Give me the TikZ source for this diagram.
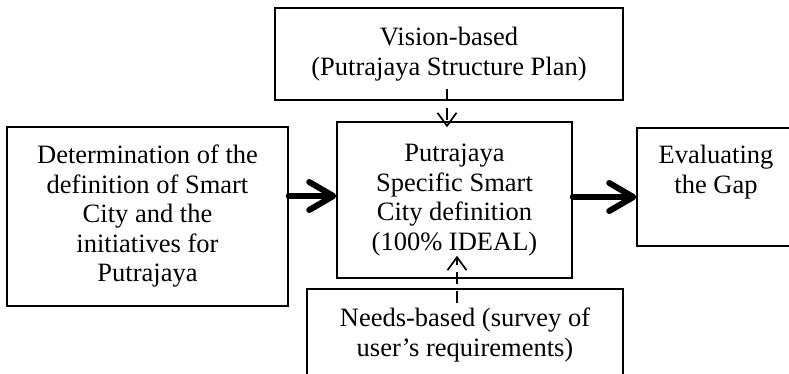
\documentclass[tikz,border=0pt]{standalone}
\usepackage{fontspec}
\setmainfont{Liberation Serif}
\usetikzlibrary{arrows.meta}
\begin{document}
\begin{tikzpicture}[x=1pt,y=-1pt,
  box/.style={draw, line width=1.5pt, inner sep=0pt, align=center,
    font=\fontsize{26.5}{29.5}\selectfont},
  txt/.style={inner sep=0pt, align=center, font=\fontsize{26.5}{29.5}\selectfont},
  bigarrow/.style={line width=6pt, line cap=round,
    -{Straight Barb[length=24pt,width=28pt,line cap=round,round]}},
  dasharrow/.style={line width=1.7pt, dash pattern=on 12pt off 7pt,
    -{Straight Barb[length=13pt,width=19pt]}}]
\useasboundingbox (0,0) rectangle (789,373);
\clip (0,0) rectangle (789,373);
\node[box, minimum width=348pt, minimum height=92pt] (vis) at (449,54)
  {Vision-based\\(Putrajaya Structure Plan)};
\node[box, minimum width=281pt, minimum height=179pt] (left) at (147.5,216.5)
  {Determination of the\\definition of Smart\\City and the\\initiatives for\\Putrajaya};
\node[box, minimum width=235pt, minimum height=156pt] (ctr) at (454.5,200)
  {Putrajaya\\Specific Smart\\City definition\\(100\% IDEAL)};
\node[box, minimum width=158pt, minimum height=118pt] (eval) at (716,187) {};
\node[txt, anchor=north] (evaltxt) at (716,145) {Evaluating\\the Gap};
\node[box, minimum width=316pt, minimum height=92pt] (needs) at (465,335)
  {Needs-based (survey of\\user’s requirements)};
\draw[bigarrow] ([yshift=4pt]left.east |- ctr.west) -- ([yshift=4pt]ctr.west);
\draw[bigarrow] ([yshift=3pt]ctr.east) -- ([yshift=3pt]eval.west |- ctr.east);
\draw[dasharrow] ([xshift=-2pt,yshift=12pt]vis.south) -- ([xshift=-7.5pt,yshift=-6pt]ctr.north);
\draw[dasharrow] ([xshift=-8pt,yshift=-15pt]needs.north) -- ([xshift=2.5pt,yshift=23pt]ctr.south);
\end{tikzpicture}
\end{document}
